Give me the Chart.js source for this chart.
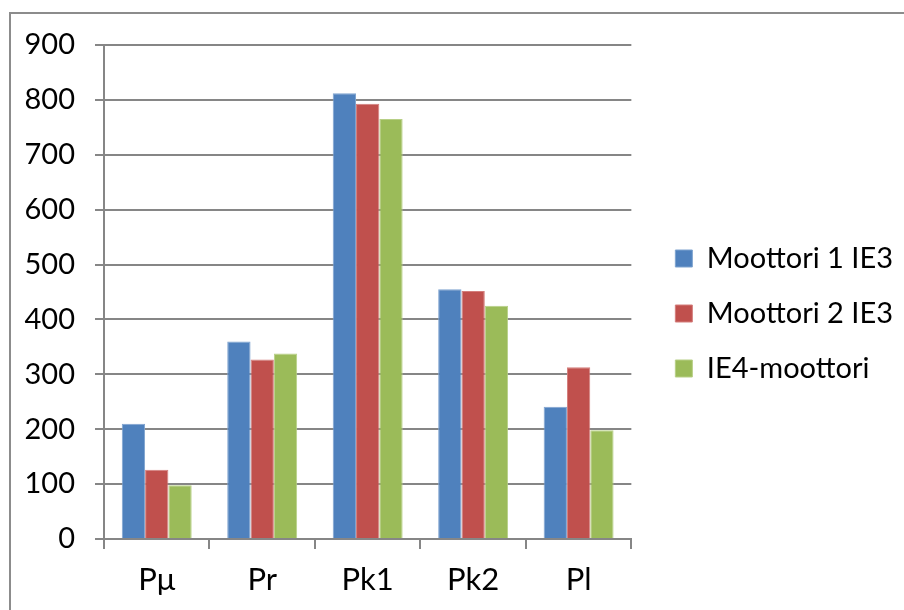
<!DOCTYPE html>
<html>
<head>
<meta charset="utf-8">
<script src="https://cdn.jsdelivr.net/npm/chart.js@4"></script>
<style>
  html, body { margin: 0; padding: 0; background: #fff; }
  #wrap { position: relative; width: 904px; height: 610px; overflow: hidden; }
  #frame { position: absolute; left: 9px; top: 12px; width: 960px; height: 700px; border: 2px solid #8c8c8c; box-sizing: border-box; }
  #box { position: absolute; left: 0; top: 0; width: 904px; height: 610px; }
</style>
</head>
<body>
<div id="wrap">
  <div id="frame"></div>
  <div id="box"><canvas id="chart"></canvas></div>
</div>
<script>
const categories = ["Pμ", "Pr", "Pk1", "Pk2", "Pl"];
const seriesNames = ["Moottori 1 IE3", "Moottori 2 IE3", "IE4-moottori"];
const moottori1 = [210, 360, 812, 455, 241];
const moottori2 = [126, 327, 793, 452, 313];
const ie4 = [98, 338, 765, 425, 198];
const yTicks = [0, 100, 200, 300, 400, 500, 600, 700, 800, 900];

const colors = ["#4F81BD", "#C0504D", "#9BBB59"];
const edges = ["#7FA3CF", "#D47E7C", "#B7CF86"];
const gridColor = "#868686";
const fontFamily = "Lato, 'Liberation Sans', sans-serif";

function ds(i, data) {
  return {
    label: seriesNames[i],
    data: data,
    backgroundColor: colors[i],
    borderColor: edges[i],
    borderWidth: 1,
    barPercentage: 1,
    categoryPercentage: 0.663
  };
}

new Chart(document.getElementById("chart"), {
  type: "bar",
  data: {
    labels: categories,
    datasets: [ds(0, moottori1), ds(1, moottori2), ds(2, ie4)]
  },
  options: {
    responsive: true,
    maintainAspectRatio: false,
    animation: false,
    layout: { padding: { left: 10, top: 45, right: 1, bottom: 0 } },
    plugins: {
      tooltip: { enabled: false },
      legend: {
        position: "right",
        fullSize: false,
        maxWidth: 400,
        // empty title only pushes the items down a bit
        title: { display: true, text: "", font: { size: 13, lineHeight: 1 }, padding: 15 },
        labels: {
          color: "#000",
          font: { family: fontFamily, size: 29 },
          boxWidth: 17,
          boxHeight: 17,
          padding: 26
        }
      }
    },
    scales: {
      x: {
        offset: true,
        grid: { offset: true, drawOnChartArea: false, drawTicks: true, tickLength: 10, color: gridColor, lineWidth: 2 },
        border: { color: gridColor, width: 2 },
        ticks: { color: "#000", font: { family: fontFamily, size: 31 }, padding: 12 },
        afterFit: s => { s.height = 71; }
      },
      y: {
        min: 0,
        max: 900,
        afterBuildTicks: s => { s.ticks = yTicks.map(v => ({ value: v })); },
        grid: { color: gridColor, lineWidth: 2, tickLength: 9 },
        border: { color: gridColor, width: 2 },
        ticks: { color: "#000", font: { family: fontFamily, size: 29 }, padding: 20 },
        afterFit: s => { s.width = 94; }
      },
      gap: {
        position: "right",
        display: true,
        grid: { display: false },
        border: { display: false },
        ticks: { display: false },
        afterFit: s => { s.width = 18; }
      }
    }
  }
});
</script>
</body>
</html>
